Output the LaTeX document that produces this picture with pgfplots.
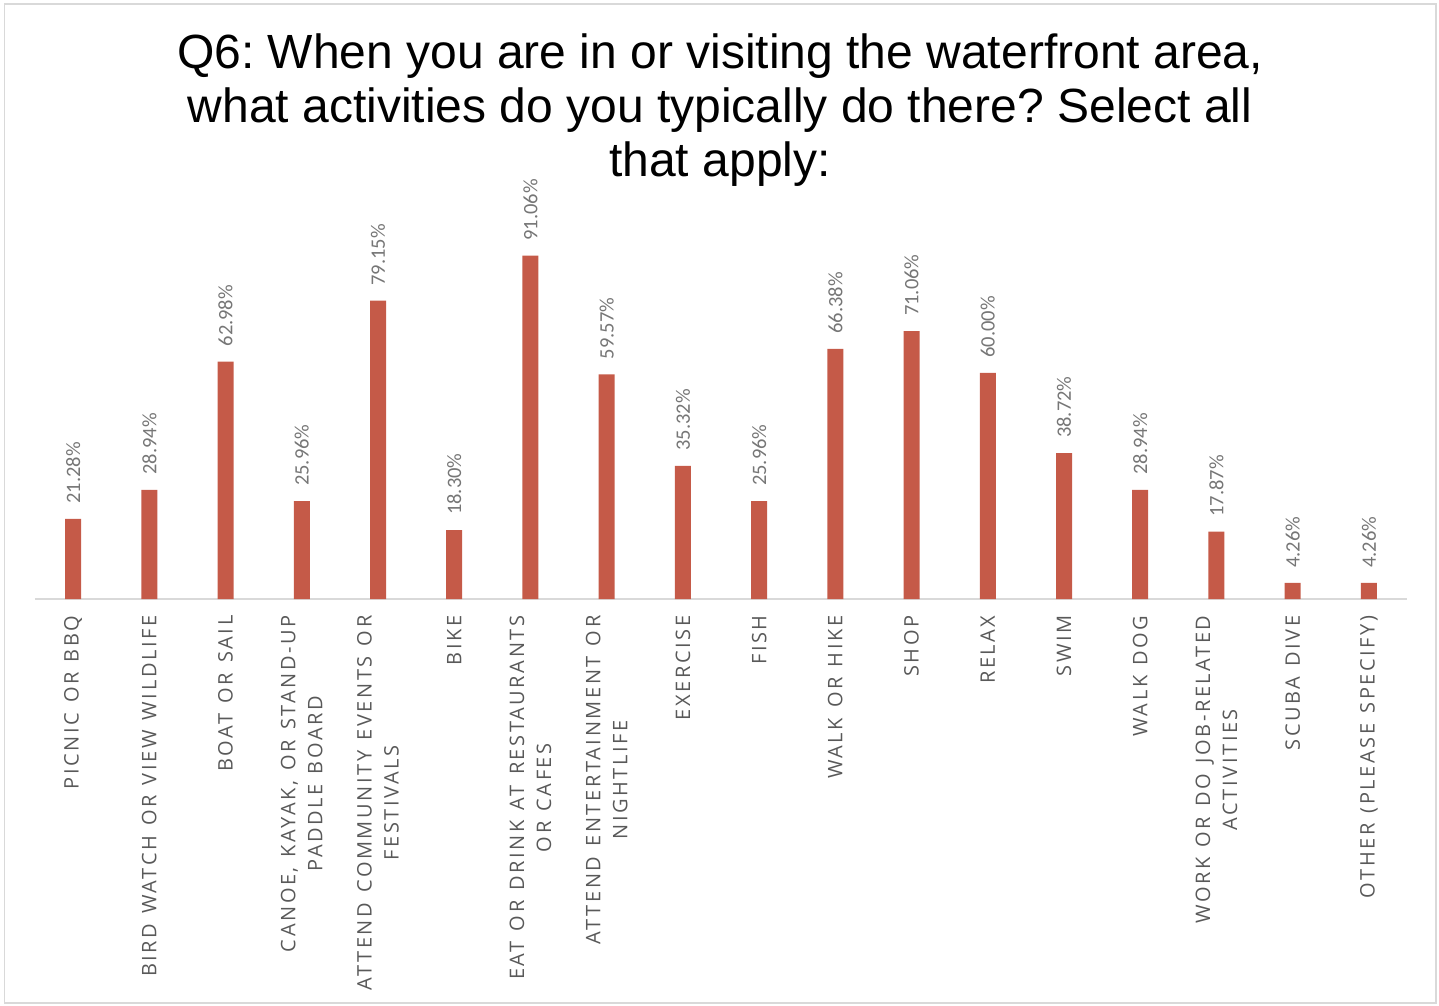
\documentclass[border=0pt]{standalone}
\usepackage{pgfplots}
\pgfplotsset{compat=1.18}
\usepackage{fontspec}
\setmainfont{Carlito}
\newfontfamily\titlefont{Liberation Sans}
\newfontfamily\tickfont[LetterSpace=13,WordSpace=1.3]{Open Sans}
\definecolor{barc}{HTML}{C55A48}
\definecolor{tickc}{HTML}{595959}
\definecolor{valc}{HTML}{767676}
\definecolor{framec}{HTML}{D9D9D9}
\frenchspacing
\pgfplotstableread{
x y
0 21.28
1 28.94
2 62.98
3 25.96
4 79.15
5 18.30
6 91.06
7 59.57
8 35.32
9 25.96
10 66.38
11 71.06
12 60.00
13 38.72
14 28.94
15 17.87
16 4.26
17 4.26
}\datatable
\begin{document}
\begin{tikzpicture}[x=1pt,y=1pt]
\useasboundingbox (0,0) rectangle (1439,1005);
\draw[framec, line width=1.5pt] (4.5,2) rectangle (1436,1001);
\node[anchor=base, inner sep=0pt, font=\titlefont\fontsize{48}{52}\selectfont] at (720,936) {Q6: When you are in or visiting the waterfront area,};
\node[anchor=base, inner sep=0pt, font=\titlefont\fontsize{48}{52}\selectfont] at (720,882) {what activities do you typically do there? Select all};
\node[anchor=base, inner sep=0pt, font=\titlefont\fontsize{48}{52}\selectfont] at (720,828) {that apply:};
\begin{axis}[
  at={(35pt,406pt)}, anchor=south west,
  scale only axis, width=1372pt, height=377pt,
  xmin=-0.5, xmax=17.5, ymin=0, ymax=100,
  clip=false,
  axis x line=bottom, axis y line=none,
  x axis line style={-, framec, line width=1.5pt},
  xtick=data, ytick=\empty,
  xtick style={draw=none},
  xticklabels={PICNIC OR BBQ, BIRD WATCH OR VIEW WILDLIFE, BOAT OR SAIL, {CANOE, KAYAK, OR STAND-UP\\PADDLE BOARD}, {ATTEND COMMUNITY EVENTS OR\\FESTIVALS}, BIKE, {EAT OR DRINK AT RESTAURANTS\\OR CAFES}, {ATTEND ENTERTAINMENT OR\\NIGHTLIFE}, EXERCISE, FISH, WALK OR HIKE, SHOP, RELAX, SWIM, WALK DOG, {WORK OR DO JOB-RELATED\\ACTIVITIES}, SCUBA DIVE, OTHER (PLEASE SPECIFY)},
  xticklabel style={rotate=90, anchor=east, align=center, inner xsep=12pt, inner ysep=0pt, font=\tickfont\fontsize{20}{27}\selectfont, text=tickc},
  ybar, bar width=16pt, bar shift=0pt,
  nodes near coords={\pgfmathprintnumber[fixed,fixed zerofill,precision=2,assume math mode=true]{\pgfplotspointmeta}\%},
  nodes near coords style={rotate=90, anchor=west, inner xsep=15pt, inner ysep=0pt, font=\fontsize{20.5}{24}\selectfont, text=valc},
]
\addplot[fill=barc, draw=none] table[x=x, y=y] {\datatable};
\end{axis}
\end{tikzpicture}
\end{document}
